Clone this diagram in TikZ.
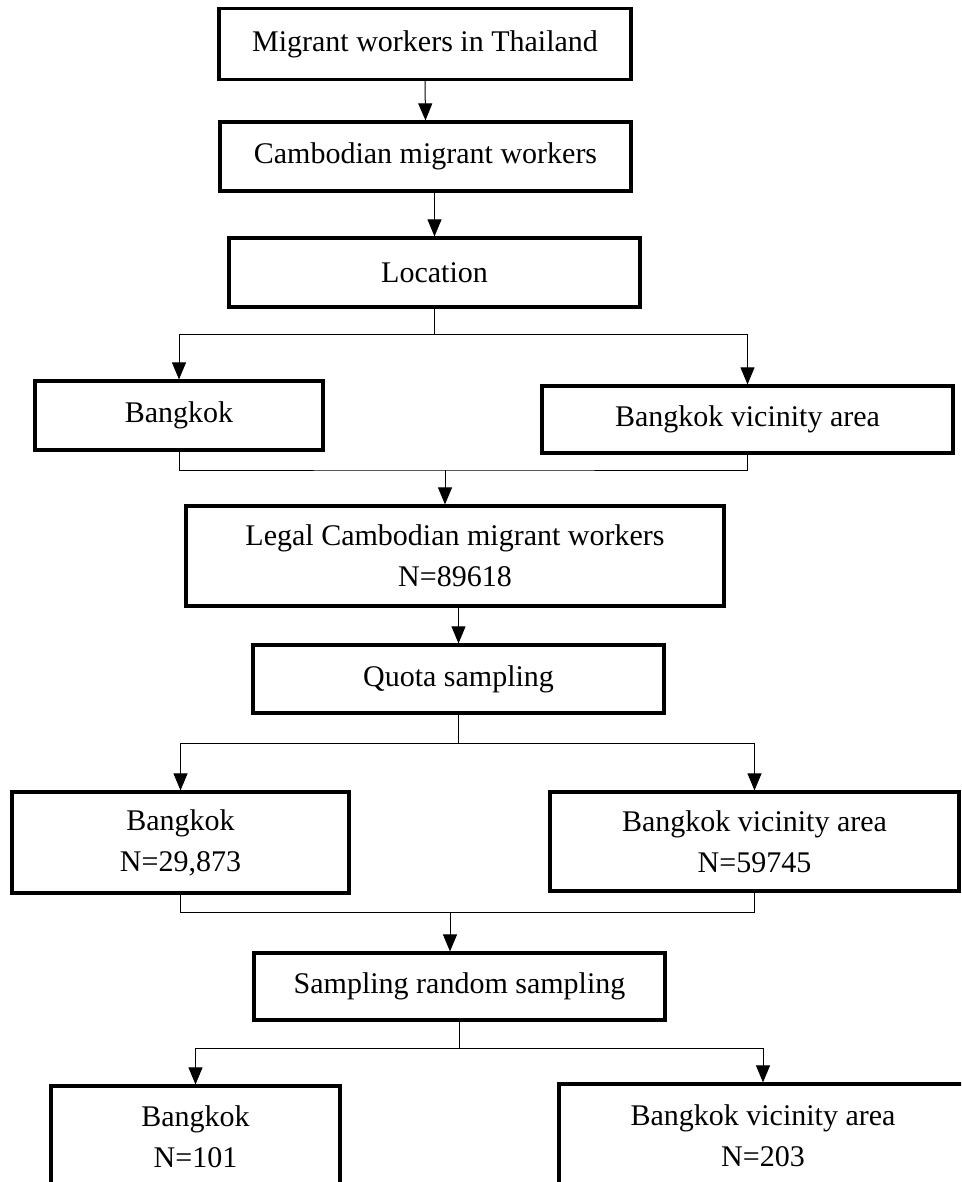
\documentclass[tikz,border=0pt]{standalone}
\usepackage{fontspec}
\setmainfont{Liberation Serif}
\usetikzlibrary{arrows.meta,positioning,calc}

\begin{document}
\begin{tikzpicture}[x=1pt,y=-1pt,
  box/.style={rectangle,draw,line width=3.2pt,align=center,inner sep=0pt,
    font=\fontsize{30}{41}\selectfont},
  link/.style={line width=1pt},
  arr/.style={line width=1pt,-{Triangle[length=17pt,width=14pt]}}]
\clip (0,0) rectangle (961,1182);

% Population
\node[box,minimum width=412pt,minimum height=71pt] (mig) at (425,44) {Migrant workers in Thailand};
\node[box,minimum width=411pt,minimum height=69pt] (camb) at (425.5,156.5) {Cambodian migrant workers};
\node[box,minimum width=411pt,minimum height=69pt] (loc) at (434.5,272.5) {Location};
\node[box,minimum width=288pt,minimum height=69pt] (bkk1) at (179,415.5) {Bangkok};
\node[box,minimum width=411pt,minimum height=67pt] (vic1) at (747.5,419.5) {Bangkok vicinity area};

\draw[arr] (mig.south) -- (camb.north);
\draw[arr] (loc.north |- camb.south) -- (loc.north);
\draw[arr] (loc.south) -- ++(0,26) -| (bkk1.north);
\draw[arr] (loc.south) -- ++(0,26) -| (vic1.north);

% Quota sampling
\node[box,minimum width=538pt,minimum height=100pt] (legal) at (455,556) {Legal Cambodian migrant workers\\N=89618};
\node[box,minimum width=411pt,minimum height=68pt] (quota) at (458.5,679) {Quota sampling};
\node[box,minimum width=337pt,minimum height=101pt] (bkk2) at (180.5,842.5) {Bangkok\\N=29,873};
\node[box,minimum width=409pt,minimum height=99pt] (vic2) at (754.5,841.5) {Bangkok vicinity area\\N=59745};

\coordinate (j1) at (445,470);
\draw[link] (bkk1.south) |- (j1) -| (vic1.south);
\draw[arr] (j1) -- (j1 |- legal.north);
\draw[arr] (quota.north |- legal.south) -- (quota.north);
\draw[arr] (quota.south) -- ++(0,29) -| (bkk2.north);
\draw[arr] (quota.south) -- ++(0,29) -| (vic2.north);

% Random sampling
\node[box,minimum width=411pt,minimum height=67pt] (rand) at (459.5,986.5) {Sampling random sampling};
\node[box,minimum width=289pt,minimum height=102pt] (bkk3) at (195.5,1137) {Bangkok\\N=101};
\node[box,minimum width=408pt,minimum height=104pt] (vic3) at (763,1136) {Bangkok vicinity area\\N=203};

\coordinate (j2) at (450,912);
\draw[link] (bkk2.south) |- (j2) -| (vic2.south);
\draw[arr] (j2) -- (j2 |- rand.north);
\draw[arr] (rand.south) -- ++(0,27) -| (bkk3.north);
\draw[arr] (rand.south) -- ++(0,27) -| (vic3.north);
\end{tikzpicture}
\end{document}
